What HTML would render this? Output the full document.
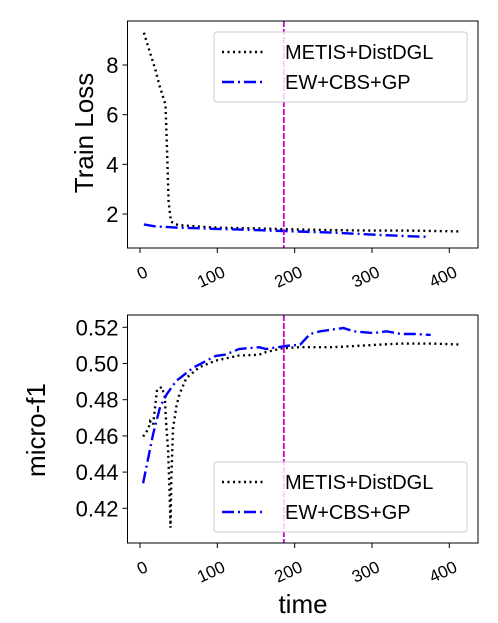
<!DOCTYPE html>
<html><head><meta charset="utf-8"><style>
body{margin:0;background:#fff}
svg{display:block;font-family:"Liberation Sans","DejaVu Sans",sans-serif}
</style></head><body>
<svg id="c" width="498" height="623"></svg>
<script>
const lossMetisX=[5,10,15,20,25,30,33,35,37,40,45,50,100,150,200,250,300,350,412];
const lossMetisY=[9.3,8.8,8.3,7.8,7.2,6.7,6.4,4.5,2.5,1.7,1.6,1.55,1.45,1.42,1.38,1.35,1.33,1.33,1.3];
const lossEwX=[5,20,50,100,150,200,250,300,350,372];
const lossEwY=[1.58,1.5,1.45,1.4,1.35,1.3,1.25,1.17,1.1,1.08];
const f1MetisX=[4,11,13,17,22,28,32,34,36.5,38.5,39.4,40.5,42.7,47,51,60,77,98,128,154,163,185,206,249,292,335,378,413];
const f1MetisY=[0.4596,0.464,0.468,0.466,0.4854,0.487,0.482,0.466,0.451,0.425,0.4093,0.436,0.464,0.476,0.483,0.492,0.498,0.5016,0.5044,0.5048,0.5063,0.5085,0.509,0.509,0.510,0.511,0.511,0.5105];
const f1EwX=[4,17,26,34.5,47,69,98,111,128,154,163,190,207,220,233,263,276,302,319,337,354,376];
const f1EwY=[0.4338,0.461,0.476,0.483,0.4904,0.4978,0.5042,0.505,0.508,0.509,0.508,0.5098,0.5104,0.5163,0.5178,0.5196,0.5178,0.5168,0.5178,0.5163,0.5163,0.5158];
const xTicks=[0,100,200,300,400];
const lossTicks=[2,4,6,8];
const f1Ticks=[0.42,0.44,0.46,0.48,0.50,0.52];
const vline=186;
const NS="http://www.w3.org/2000/svg";
const svg=document.getElementById('c');
function el(t,a,p){const e=document.createElementNS(NS,t);for(const k in a)e.setAttribute(k,a[k]);(p||svg).appendChild(e);return e;}
const L=127.5,R=478;
const sx=v=>140+v*(449.3-140)/400;
function panel(top,bot,ymap,ticks,fmt,mx,my,ex,ey,legTop,name){
  const g=el('g',{});
  
  
  const clip=el('clipPath',{id:'cl'+name},g);el('rect',{x:L,y:top,width:R-L,height:bot-top},clip);
  let d=mx.map((v,i)=>(i?'L':'M')+sx(v).toFixed(1)+','+ymap(my[i]).toFixed(1)).join('');
  const p1=el('path',{d,fill:'none',stroke:'#000','stroke-width':2.4,'stroke-dasharray':'2,3.5','clip-path':`url(#cl${name})`},g);
  
  d=ex.map((v,i)=>(i?'L':'M')+sx(v).toFixed(1)+','+ymap(ey[i]).toFixed(1)).join('');
  const p2=el('path',{d,fill:'none',stroke:'#00f','stroke-width':2.4,'stroke-dasharray':'12,4,2,4','clip-path':`url(#cl${name})`},g);
  
  const vl=el('line',{x1:sx(vline),x2:sx(vline),y1:top,y2:bot,stroke:'#c0c',
    'stroke-width':1.8,'stroke-dasharray':'6,2'},g);
  
  el('rect',{x:L,y:top,width:R-L,height:bot-top,fill:'none',stroke:'#000','stroke-width':1},g);
  ticks.forEach(t=>{const y=ymap(t);el('line',{x1:L-5,x2:L,y1:y,y2:y,stroke:'#000'},g);
    const tx=el('text',{x:L-9,y:y+8,'font-size':22,'text-anchor':'end'},g);tx.textContent=fmt(t);
    });
  xTicks.forEach(t=>{const x=sx(t);el('line',{x1:x,x2:x,y1:bot,y2:bot+5,stroke:'#000'},g);
    const tx=el('text',{x:x+9,y:bot+28,'font-size':17,'text-anchor':'end',transform:`rotate(-25 ${x+9} ${bot+28})`},g);tx.textContent=t;
    });
  const lg=el('g',{},g);
  el('rect',{x:214,y:legTop,width:253,height:70,rx:3,fill:'#fff','fill-opacity':0.8,stroke:'#ccc'},lg);
  el('line',{x1:222,x2:266,y1:legTop+20,y2:legTop+20,stroke:'#000','stroke-width':2.4,'stroke-dasharray':'2,3.5'},lg);
  el('line',{x1:222,x2:266,y1:legTop+50,y2:legTop+50,stroke:'#00f','stroke-width':2.4,'stroke-dasharray':'12,4,2,4'},lg);
  let t1=el('text',{x:285,y:legTop+27,'font-size':20},lg);t1.textContent='METIS+DistDGL';
  
  let t2=el('text',{x:285,y:legTop+57,'font-size':20},lg);t2.textContent='EW+CBS+GP';
  
}
panel(21,248,v=>214-(v-2)*24.83,lossTicks,t=>t,lossMetisX,lossMetisY,lossEwX,lossEwY,32,'loss');
panel(315,543,v=>327.3+(0.52-v)*1810,f1Ticks,t=>t.toFixed(2),f1MetisX,f1MetisY,f1EwX,f1EwY,462,'f1');
let t=el('text',{x:0,y:0,'font-size':26,'text-anchor':'middle',transform:'translate(93,133) rotate(-90)'});t.textContent='Train Loss';

t=el('text',{x:0,y:0,'font-size':26,'text-anchor':'middle',transform:'translate(45,430) rotate(-90)'});t.textContent='micro-f1';

t=el('text',{x:303,y:613,'font-size':26,'text-anchor':'middle'});t.textContent='time';

</script>
</body></html>
